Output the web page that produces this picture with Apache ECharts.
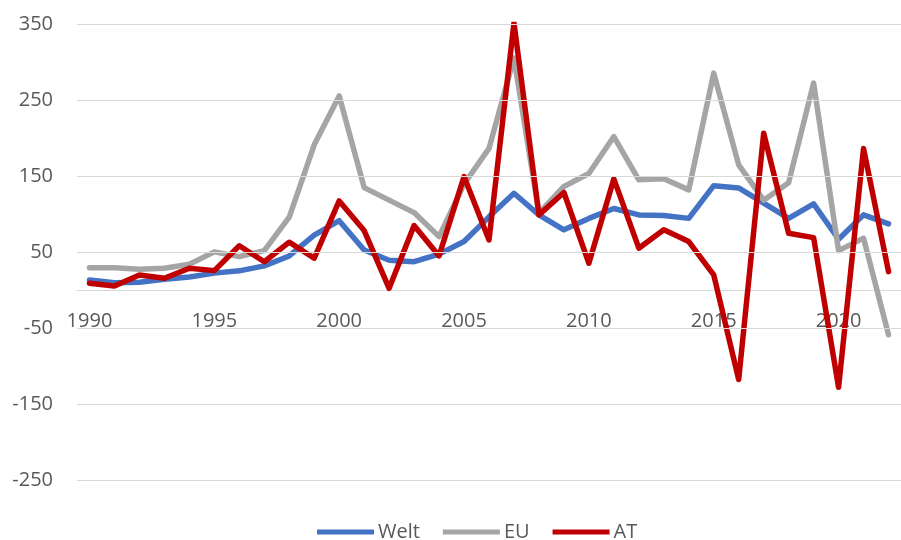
<!DOCTYPE html>
<html>
<head>
<meta charset="utf-8">
<script src="https://cdn.jsdelivr.net/npm/echarts@6/dist/echarts.min.js"></script>
<style>html,body{margin:0;padding:0;background:#fff;}#c{width:901px;height:540px;}</style>
</head>
<body>
<div id="c"></div>
<script>
const years = [];
for (let y = 1990; y <= 2022; y++) years.push(String(y));
const welt = [14, 10.5, 11, 15, 18, 23, 26, 32.5, 45.6, 73, 92, 53.5, 40, 38, 48,
  64.5, 97, 128, 99.6, 80, 95, 108, 99.6, 98.7, 95, 138, 135, 115, 95, 114, 67.6, 99.6, 87.8];
const eu = [30, 30, 28, 29.5, 34.7, 51, 44.7, 52.6, 96.6, 191.7, 256, 135.5, 119, 102.6, 71,
  140, 187, 306, 102, 137, 154, 202.6, 145.7, 147, 132.5, 286, 165.4, 119, 142, 273, 52.6, 69, -58];
const at = [9.7, 6, 20.6, 16.3, 29.5, 26.3, 59, 38, 63.7, 42.6, 118, 79, 3, 85.5, 45.6,
  150, 66.7, 352, 99.6, 129, 36, 147, 55.8, 80, 64.5, 20.6, -117, 207, 75.5, 69.7, -127, 187, 25];
const yTickLabels = [-250, -150, -50, 50, 150, 250, 350];

const FONT = '"Open Sans", "Liberation Sans", sans-serif';
const chart = echarts.init(document.getElementById('c'), null, {renderer: 'canvas'});
const lineSeries = (name, data, color) => ({
  name, type: 'line', data, symbol: 'none', smooth: false, z: 3,
  lineStyle: {color, width: 5.5, cap: 'round', join: 'round'},
  itemStyle: {color}
});
const gridTop = 24.5, gridBottom = 59.3, plotH = 540 - gridTop - gridBottom;
const yMin = -250, yMax = 350;
const zeroOffset = -plotH * (0 - yMin) / (yMax - yMin);
chart.setOption({
  animation: false,
  grid: {left: 77, right: -11, top: gridTop, bottom: gridBottom, containLabel: false},
  legend: {
    data: ['Welt', 'EU', 'AT'],
    left: 317, top: 522, padding: 0,
    icon: 'rect',
    itemWidth: 57, itemHeight: 5, itemGap: 23,
    textStyle: {fontFamily: FONT, fontSize: 20, color: '#595959', padding: [0, 0, 0, -1]}
  },
  xAxis: {
    type: 'category', data: years, boundaryGap: true,
    offset: zeroOffset,
    axisLine: {onZero: false, lineStyle: {color: '#D9D9D9', width: 1}},
    axisTick: {show: false},
    axisLabel: {interval: 4, margin: 21, fontFamily: FONT, fontSize: 20, color: '#595959'},
    splitLine: {show: false}
  },
  yAxis: {
    type: 'value', min: yMin, max: yMax, interval: 50,
    axisLine: {show: false}, axisTick: {show: false},
    splitLine: {show: false},
    axisLabel: {
      margin: 24, fontFamily: FONT, fontSize: 20, color: '#595959',
      formatter: v => (yTickLabels.indexOf(v) >= 0 ? String(v) : '')
    }
  },
  series: [
    {
      name: 'grid', type: 'line', data: [], z: 1, silent: true,
      markLine: {
        silent: true, symbol: 'none', animation: false,
        label: {show: false},
        lineStyle: {color: '#D9D9D9', width: 1, type: 'solid'},
        emphasis: {disabled: true},
        data: yTickLabels.map(v => ({yAxis: v}))
      }
    },
    lineSeries('Welt', welt, '#4472C4'),
    lineSeries('EU', eu, '#A5A5A5'),
    lineSeries('AT', at, '#C00000')
  ]
});
</script>
</body>
</html>
